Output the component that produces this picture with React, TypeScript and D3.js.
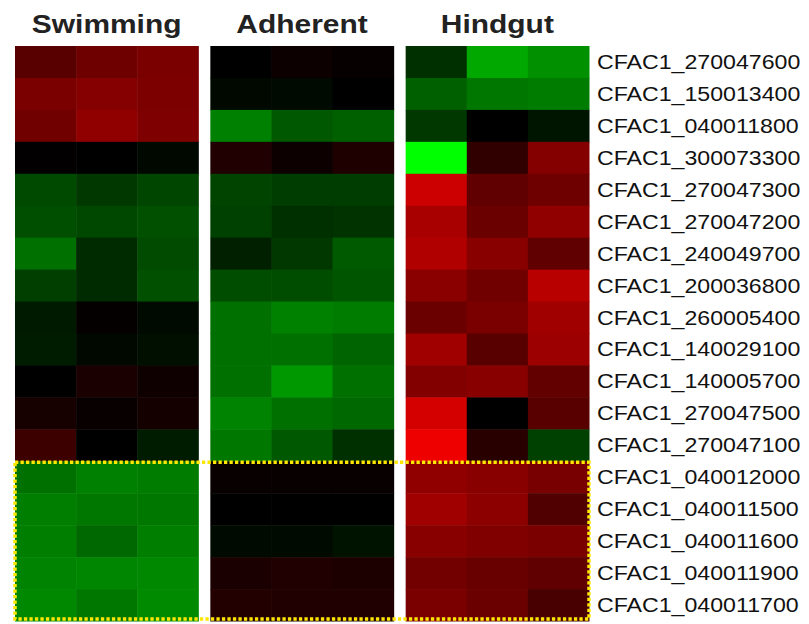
import React from "react";
import * as d3 from "d3";

// conditions shown as panels, three replicates each
const groups = ["Swimming", "Adherent", "Hindgut"];
const replicates = ["r1", "r2", "r3"];

const genes = [
  "CFAC1_270047600",
  "CFAC1_150013400",
  "CFAC1_040011800",
  "CFAC1_300073300",
  "CFAC1_270047300",
  "CFAC1_270047200",
  "CFAC1_240049700",
  "CFAC1_200036800",
  "CFAC1_260005400",
  "CFAC1_140029100",
  "CFAC1_140005700",
  "CFAC1_270047500",
  "CFAC1_270047100",
  "CFAC1_040012000",
  "CFAC1_040011500",
  "CFAC1_040011600",
  "CFAC1_040011900",
  "CFAC1_040011700",
];

// log2 ratios, one row per gene, 3 replicates
const swimming = [
  [1.04, 1.29, 1.44],
  [1.44, 1.56, 1.46],
  [1.32, 1.69, 1.48],
  [0.02, 0.0, -0.09],
  [-0.87, -0.66, -0.81],
  [-0.93, -0.85, -0.94],
  [-1.32, -0.49, -0.88],
  [-0.74, -0.49, -0.94],
  [-0.31, 0.06, -0.12],
  [-0.33, -0.09, -0.18],
  [0.0, 0.31, 0.18],
  [0.26, 0.09, 0.25],
  [0.71, 0.0, -0.33],
  [-1.32, -1.51, -1.46],
  [-1.48, -1.41, -1.41],
  [-1.48, -1.22, -1.48],
  [-1.54, -1.58, -1.6],
  [-1.6, -1.41, -1.62],
];

const adherent = [
  [0.0, 0.14, 0.07],
  [-0.09, -0.12, 0.0],
  [-1.51, -1.04, -1.13],
  [0.38, 0.14, 0.35],
  [-0.8, -0.72, -0.72],
  [-0.75, -0.56, -0.6],
  [-0.38, -0.66, -1.06],
  [-0.91, -0.91, -1.0],
  [-1.32, -1.53, -1.46],
  [-1.32, -1.32, -1.19],
  [-1.32, -1.79, -1.32],
  [-1.54, -1.32, -1.22],
  [-1.41, -1.04, -0.56],
  [0.09, 0.09, 0.09],
  [0.0, 0.0, 0.0],
  [-0.12, -0.12, -0.21],
  [0.31, 0.38, 0.33],
  [0.4, 0.38, 0.38],
];

const hindgut = [
  [-0.56, -1.98, -1.69],
  [-1.13, -1.41, -1.46],
  [-0.66, 0.0, -0.25],
  [-3.0, 0.56, 1.55],
  [2.4, 1.13, 1.29],
  [1.98, 1.25, 1.69],
  [2.07, 1.6, 1.13],
  [1.62, 1.32, 2.16],
  [1.25, 1.44, 1.88],
  [1.88, 1.04, 1.84],
  [1.53, 1.6, 1.15],
  [2.49, 0.0, 1.04],
  [2.8, 0.47, -0.75],
  [1.69, 1.6, 1.41],
  [1.88, 1.65, 0.94],
  [1.6, 1.51, 1.44],
  [1.34, 1.22, 1.13],
  [1.44, 1.25, 0.85],
];

// genes inside the highlighted (dotted) block
const highlighted = genes.slice(13);

const W = 809;
const H = 624;
const font = "'Liberation Sans', Arial, Helvetica, sans-serif";
const stretch = 1.13;

export default function App() {
  const values = [swimming, adherent, hindgut];

  const xGroup = d3
    .scaleBand<string>()
    .domain(groups)
    .range([15, 589])
    .paddingInner(0.0614);
  const xRep = d3
    .scaleBand<string>()
    .domain(replicates)
    .range([0, xGroup.bandwidth()]);
  const y = d3.scaleBand<string>().domain(genes).range([46, 621]);

  const color = d3
    .scaleLinear<string>()
    .domain([-3, 0, 3])
    .range(["#00ff00", "#000000", "#ff0000"])
    .clamp(true);

  const boxTop = (y(highlighted[0]) as number) + 1;
  const boxBottom = (y(highlighted[highlighted.length - 1]) as number) + y.bandwidth() - 2;

  return (
    <svg
      width={W}
      height={H}
      style={{ position: "absolute", left: 0, top: 0, background: "#fff" }}
    >
      {groups.map((g, gi) => {
        const gx = xGroup(g) as number;
        return (
          <g key={g}>
            {genes.map((gene, ri) =>
              replicates.map((rep, ci) => (
                <rect
                  key={gene + rep}
                  x={gx + (xRep(rep) as number)}
                  y={y(gene) as number}
                  width={xRep.bandwidth() + 0.5}
                  height={y.bandwidth() + 0.5}
                  fill={color(values[gi][ri][ci])}
                />
              ))
            )}
            <text
              transform={`translate(${gx + xGroup.bandwidth() / 2},33) scale(${stretch},1)`}
              textAnchor="middle"
              fontFamily={font}
              fontWeight="bold"
              fontSize={26.5}
              fill="#222"
            >
              {g}
            </text>
          </g>
        );
      })}

      {genes.map((gene) => (
        <text
          key={gene}
          transform={`translate(597,${(y(gene) as number) + y.bandwidth() / 2 + 7}) scale(${stretch},1)`}
          fontFamily={font}
          fontSize={20.5}
          fill="#111"
        >
          {gene}
        </text>
      ))}

      {/* dotted highlight box */}
      <rect
        x={15}
        y={boxTop}
        width={589 - 15}
        height={boxBottom - boxTop}
        fill="none"
        stroke="#ffe800"
        strokeWidth={3.5}
        strokeDasharray="3.3,2.2"
      />
    </svg>
  );
}
